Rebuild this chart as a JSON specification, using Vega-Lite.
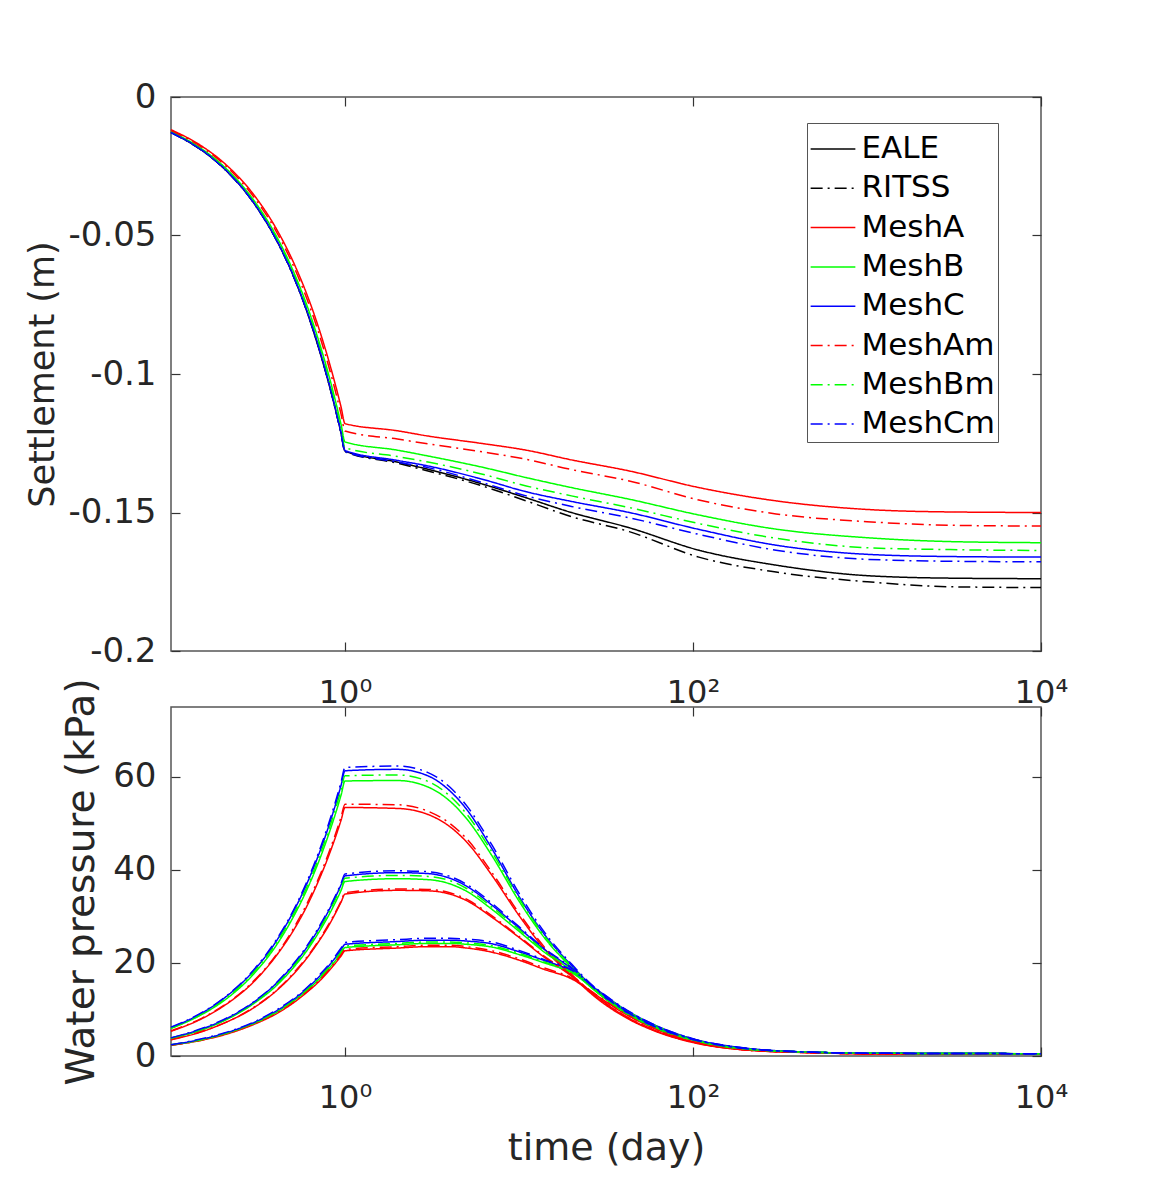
{
"$schema": "https://vega.github.io/schema/vega-lite/v6.json",
"background": "white",
"padding": {"left": 24, "top": 79, "right": 10, "bottom": 10},
"config": {
  "font": "DejaVu Sans",
  "view": {"stroke": "#555555", "strokeWidth": 1.5},
  "axis": {"grid": false, "domain": false, "tickColor": "#333333", "tickSize": -9, "tickWidth": 1.2, "labelColor": "#262626", "titleColor": "#262626", "labelFontSize": 34, "titleFontSize": 36, "titleFontWeight": "normal", "labelPadding": 24, "titlePadding": 8},
  "legend": {"orient": "none", "legendX": 636, "legendY": 26, "strokeColor": "#555555", "fillColor": "white", "padding": 2.5, "labelFontSize": 31, "labelColor": "#000000", "symbolType": "stroke", "symbolSize": 2000, "symbolStrokeWidth": 1.5, "rowPadding": 0.3, "labelOffset": 5}
},
"datasets": {
"settle": [
{"s":"EALE","t":0.1,"v":-0.0128},{"s":"EALE","t":0.15,"v":-0.0192},{"s":"EALE","t":0.2,"v":-0.0256},{"s":"EALE","t":0.3,"v":-0.0384},{"s":"EALE","t":0.4,"v":-0.0512},{"s":"EALE","t":0.5,"v":-0.064},{"s":"EALE","t":0.65,"v":-0.0835},{"s":"EALE","t":0.95,"v":-0.1215},{"s":"EALE","t":1,"v":-0.1278},{"s":"EALE","t":2,"v":-0.1318},{"s":"EALE","t":3,"v":-0.1344},{"s":"EALE","t":6,"v":-0.1395},{"s":"EALE","t":11,"v":-0.1447},{"s":"EALE","t":20,"v":-0.15},{"s":"EALE","t":43,"v":-0.1555},{"s":"EALE","t":108,"v":-0.1636},{"s":"EALE","t":300,"v":-0.169},{"s":"EALE","t":1000,"v":-0.1728},{"s":"EALE","t":3000,"v":-0.1737},{"s":"EALE","t":10000,"v":-0.1739},
{"s":"RITSS","t":0.1,"v":-0.0128},{"s":"RITSS","t":0.2,"v":-0.0256},{"s":"RITSS","t":0.3,"v":-0.0384},{"s":"RITSS","t":0.4,"v":-0.0512},{"s":"RITSS","t":0.5,"v":-0.064},{"s":"RITSS","t":0.6,"v":-0.0768},{"s":"RITSS","t":0.7,"v":-0.0896},{"s":"RITSS","t":0.85,"v":-0.1088},{"s":"RITSS","t":0.95,"v":-0.1216},{"s":"RITSS","t":1,"v":-0.128},{"s":"RITSS","t":2,"v":-0.1322},{"s":"RITSS","t":3,"v":-0.135},{"s":"RITSS","t":6,"v":-0.1402},{"s":"RITSS","t":11,"v":-0.1458},{"s":"RITSS","t":20,"v":-0.1515},{"s":"RITSS","t":43,"v":-0.1569},{"s":"RITSS","t":108,"v":-0.1661},{"s":"RITSS","t":300,"v":-0.1715},{"s":"RITSS","t":1000,"v":-0.175},{"s":"RITSS","t":3000,"v":-0.1768},{"s":"RITSS","t":10000,"v":-0.1771},
{"s":"MeshA","t":0.1,"v":-0.0118},{"s":"MeshA","t":0.15,"v":-0.0177},{"s":"MeshA","t":0.2,"v":-0.0236},{"s":"MeshA","t":0.3,"v":-0.0354},{"s":"MeshA","t":0.4,"v":-0.0472},{"s":"MeshA","t":0.5,"v":-0.059},{"s":"MeshA","t":0.6,"v":-0.0708},{"s":"MeshA","t":0.7,"v":-0.0826},{"s":"MeshA","t":0.85,"v":-0.1003},{"s":"MeshA","t":0.95,"v":-0.112},{"s":"MeshA","t":1,"v":-0.1179},{"s":"MeshA","t":2,"v":-0.1205},{"s":"MeshA","t":3,"v":-0.1224},{"s":"MeshA","t":6,"v":-0.125},{"s":"MeshA","t":11,"v":-0.1275},{"s":"MeshA","t":20,"v":-0.131},{"s":"MeshA","t":43,"v":-0.135},{"s":"MeshA","t":108,"v":-0.141},{"s":"MeshA","t":300,"v":-0.1458},{"s":"MeshA","t":1000,"v":-0.1489},{"s":"MeshA","t":3000,"v":-0.1498},{"s":"MeshA","t":10000,"v":-0.15},
{"s":"MeshB","t":0.1,"v":-0.0125},{"s":"MeshB","t":0.15,"v":-0.0187},{"s":"MeshB","t":0.2,"v":-0.0249},{"s":"MeshB","t":0.3,"v":-0.0374},{"s":"MeshB","t":0.4,"v":-0.0498},{"s":"MeshB","t":0.5,"v":-0.0623},{"s":"MeshB","t":0.6,"v":-0.0747},{"s":"MeshB","t":0.7,"v":-0.0872},{"s":"MeshB","t":0.85,"v":-0.1058},{"s":"MeshB","t":0.95,"v":-0.1183},{"s":"MeshB","t":1,"v":-0.1245},{"s":"MeshB","t":2,"v":-0.1275},{"s":"MeshB","t":3,"v":-0.1296},{"s":"MeshB","t":6,"v":-0.1335},{"s":"MeshB","t":11,"v":-0.1374},{"s":"MeshB","t":20,"v":-0.141},{"s":"MeshB","t":43,"v":-0.1452},{"s":"MeshB","t":108,"v":-0.1509},{"s":"MeshB","t":300,"v":-0.156},{"s":"MeshB","t":1000,"v":-0.1591},{"s":"MeshB","t":3000,"v":-0.1605},{"s":"MeshB","t":10000,"v":-0.1609},
{"s":"MeshC","t":0.1,"v":-0.0128},{"s":"MeshC","t":0.15,"v":-0.0191},{"s":"MeshC","t":0.2,"v":-0.0255},{"s":"MeshC","t":0.3,"v":-0.0383},{"s":"MeshC","t":0.4,"v":-0.051},{"s":"MeshC","t":0.5,"v":-0.0638},{"s":"MeshC","t":0.6,"v":-0.0766},{"s":"MeshC","t":0.7,"v":-0.0893},{"s":"MeshC","t":0.85,"v":-0.1085},{"s":"MeshC","t":0.95,"v":-0.1212},{"s":"MeshC","t":1,"v":-0.1276},{"s":"MeshC","t":2,"v":-0.1312},{"s":"MeshC","t":3,"v":-0.1332},{"s":"MeshC","t":6,"v":-0.1378},{"s":"MeshC","t":11,"v":-0.1425},{"s":"MeshC","t":20,"v":-0.146},{"s":"MeshC","t":43,"v":-0.15},{"s":"MeshC","t":108,"v":-0.1561},{"s":"MeshC","t":300,"v":-0.1618},{"s":"MeshC","t":1000,"v":-0.1651},{"s":"MeshC","t":3000,"v":-0.1659},{"s":"MeshC","t":10000,"v":-0.1661},
{"s":"MeshAm","t":0.1,"v":-0.0121},{"s":"MeshAm","t":0.15,"v":-0.0181},{"s":"MeshAm","t":0.2,"v":-0.0241},{"s":"MeshAm","t":0.3,"v":-0.0362},{"s":"MeshAm","t":0.4,"v":-0.0482},{"s":"MeshAm","t":0.5,"v":-0.0603},{"s":"MeshAm","t":0.6,"v":-0.0724},{"s":"MeshAm","t":0.7,"v":-0.0844},{"s":"MeshAm","t":0.85,"v":-0.1025},{"s":"MeshAm","t":0.95,"v":-0.1146},{"s":"MeshAm","t":1,"v":-0.1206},{"s":"MeshAm","t":2,"v":-0.1235},{"s":"MeshAm","t":3,"v":-0.1252},{"s":"MeshAm","t":6,"v":-0.128},{"s":"MeshAm","t":11,"v":-0.1308},{"s":"MeshAm","t":20,"v":-0.1345},{"s":"MeshAm","t":43,"v":-0.1386},{"s":"MeshAm","t":108,"v":-0.1455},{"s":"MeshAm","t":300,"v":-0.1505},{"s":"MeshAm","t":1000,"v":-0.1533},{"s":"MeshAm","t":3000,"v":-0.1546},{"s":"MeshAm","t":10000,"v":-0.1549},
{"s":"MeshBm","t":0.1,"v":-0.0127},{"s":"MeshBm","t":0.15,"v":-0.019},{"s":"MeshBm","t":0.2,"v":-0.0253},{"s":"MeshBm","t":0.3,"v":-0.038},{"s":"MeshBm","t":0.4,"v":-0.0506},{"s":"MeshBm","t":0.5,"v":-0.0633},{"s":"MeshBm","t":0.6,"v":-0.076},{"s":"MeshBm","t":0.7,"v":-0.0886},{"s":"MeshBm","t":0.85,"v":-0.1076},{"s":"MeshBm","t":0.95,"v":-0.1203},{"s":"MeshBm","t":1,"v":-0.1266},{"s":"MeshBm","t":2,"v":-0.1298},{"s":"MeshBm","t":3,"v":-0.1318},{"s":"MeshBm","t":6,"v":-0.136},{"s":"MeshBm","t":11,"v":-0.1404},{"s":"MeshBm","t":20,"v":-0.144},{"s":"MeshBm","t":43,"v":-0.1482},{"s":"MeshBm","t":108,"v":-0.154},{"s":"MeshBm","t":300,"v":-0.1593},{"s":"MeshBm","t":1000,"v":-0.1627},{"s":"MeshBm","t":3000,"v":-0.1634},{"s":"MeshBm","t":10000,"v":-0.1637},
{"s":"MeshCm","t":0.1,"v":-0.0128},{"s":"MeshCm","t":0.15,"v":-0.0192},{"s":"MeshCm","t":0.2,"v":-0.0256},{"s":"MeshCm","t":0.3,"v":-0.0384},{"s":"MeshCm","t":0.4,"v":-0.0512},{"s":"MeshCm","t":0.5,"v":-0.064},{"s":"MeshCm","t":0.6,"v":-0.0768},{"s":"MeshCm","t":0.7,"v":-0.0896},{"s":"MeshCm","t":0.85,"v":-0.1088},{"s":"MeshCm","t":0.95,"v":-0.1216},{"s":"MeshCm","t":1,"v":-0.128},{"s":"MeshCm","t":2,"v":-0.1318},{"s":"MeshCm","t":3,"v":-0.1338},{"s":"MeshCm","t":6,"v":-0.139},{"s":"MeshCm","t":11,"v":-0.144},{"s":"MeshCm","t":20,"v":-0.1478},{"s":"MeshCm","t":43,"v":-0.1519},{"s":"MeshCm","t":108,"v":-0.1579},{"s":"MeshCm","t":300,"v":-0.1636},{"s":"MeshCm","t":1000,"v":-0.1669},{"s":"MeshCm","t":3000,"v":-0.1676},{"s":"MeshCm","t":10000,"v":-0.1678}
],
"pres": [
{"s":"MeshA","d":1,"t":0.1,"v":5.3},{"s":"MeshA","d":1,"t":0.15,"v":8.0},{"s":"MeshA","d":1,"t":0.2,"v":10.7},{"s":"MeshA","d":1,"t":0.3,"v":16.0},{"s":"MeshA","d":1,"t":0.4,"v":21.4},{"s":"MeshA","d":1,"t":0.5,"v":26.7},{"s":"MeshA","d":1,"t":0.6,"v":32.0},{"s":"MeshA","d":1,"t":0.7,"v":37.4},{"s":"MeshA","d":1,"t":0.8,"v":42.7},{"s":"MeshA","d":1,"t":0.95,"v":50.7},{"s":"MeshA","d":1,"t":1,"v":53.4},{"s":"MeshA","d":1,"t":2,"v":53.2},{"s":"MeshA","d":1,"t":3,"v":51.9},{"s":"MeshA","d":1,"t":4,"v":49.3},{"s":"MeshA","d":1,"t":5,"v":46.0},{"s":"MeshA","d":1,"t":7,"v":38.8},{"s":"MeshA","d":1,"t":10,"v":30.2},{"s":"MeshA","d":1,"t":14,"v":23.0},{"s":"MeshA","d":1,"t":20,"v":17.3},{"s":"MeshA","d":1,"t":28,"v":12.4},{"s":"MeshA","d":1,"t":40,"v":8.5},{"s":"MeshA","d":1,"t":60,"v":5.4},{"s":"MeshA","d":1,"t":100,"v":2.9},{"s":"MeshA","d":1,"t":200,"v":1.3},{"s":"MeshA","d":1,"t":500,"v":0.7},{"s":"MeshA","d":1,"t":1000,"v":0.5},{"s":"MeshA","d":1,"t":10000,"v":0.5},
{"s":"MeshA","d":2,"t":0.1,"v":3.5},{"s":"MeshA","d":2,"t":0.15,"v":5.2},{"s":"MeshA","d":2,"t":0.2,"v":7.0},{"s":"MeshA","d":2,"t":0.3,"v":10.4},{"s":"MeshA","d":2,"t":0.4,"v":13.9},{"s":"MeshA","d":2,"t":0.5,"v":17.4},{"s":"MeshA","d":2,"t":0.6,"v":20.9},{"s":"MeshA","d":2,"t":0.7,"v":24.4},{"s":"MeshA","d":2,"t":0.8,"v":27.8},{"s":"MeshA","d":2,"t":0.95,"v":33.1},{"s":"MeshA","d":2,"t":1,"v":34.8},{"s":"MeshA","d":2,"t":2,"v":35.6},{"s":"MeshA","d":2,"t":3,"v":35.5},{"s":"MeshA","d":2,"t":4,"v":34.8},{"s":"MeshA","d":2,"t":5,"v":33.4},{"s":"MeshA","d":2,"t":7,"v":29.8},{"s":"MeshA","d":2,"t":10,"v":25.5},{"s":"MeshA","d":2,"t":14,"v":21.2},{"s":"MeshA","d":2,"t":20,"v":17.2},{"s":"MeshA","d":2,"t":28,"v":12.7},{"s":"MeshA","d":2,"t":40,"v":8.7},{"s":"MeshA","d":2,"t":60,"v":5.5},{"s":"MeshA","d":2,"t":100,"v":3.0},{"s":"MeshA","d":2,"t":200,"v":1.3},{"s":"MeshA","d":2,"t":500,"v":0.7},{"s":"MeshA","d":2,"t":1000,"v":0.5},{"s":"MeshA","d":2,"t":10000,"v":0.5},
{"s":"MeshA","d":3,"t":0.1,"v":2.3},{"s":"MeshA","d":3,"t":0.15,"v":3.4},{"s":"MeshA","d":3,"t":0.2,"v":4.5},{"s":"MeshA","d":3,"t":0.3,"v":6.8},{"s":"MeshA","d":3,"t":0.4,"v":9.0},{"s":"MeshA","d":3,"t":0.5,"v":11.3},{"s":"MeshA","d":3,"t":0.6,"v":13.6},{"s":"MeshA","d":3,"t":0.7,"v":15.8},{"s":"MeshA","d":3,"t":0.8,"v":18.1},{"s":"MeshA","d":3,"t":0.95,"v":21.5},{"s":"MeshA","d":3,"t":1,"v":22.6},{"s":"MeshA","d":3,"t":2,"v":23.2},{"s":"MeshA","d":3,"t":3,"v":23.5},{"s":"MeshA","d":3,"t":4,"v":23.5},{"s":"MeshA","d":3,"t":5,"v":23.2},{"s":"MeshA","d":3,"t":7,"v":22.3},{"s":"MeshA","d":3,"t":10,"v":20.6},{"s":"MeshA","d":3,"t":14,"v":18.6},{"s":"MeshA","d":3,"t":20,"v":16.6},{"s":"MeshA","d":3,"t":28,"v":13.0},{"s":"MeshA","d":3,"t":40,"v":9.2},{"s":"MeshA","d":3,"t":60,"v":5.9},{"s":"MeshA","d":3,"t":100,"v":3.1},{"s":"MeshA","d":3,"t":200,"v":1.4},{"s":"MeshA","d":3,"t":500,"v":0.7},{"s":"MeshA","d":3,"t":1000,"v":0.5},{"s":"MeshA","d":3,"t":10000,"v":0.5},
{"s":"MeshB","d":1,"t":0.1,"v":5.9},{"s":"MeshB","d":1,"t":0.15,"v":8.9},{"s":"MeshB","d":1,"t":0.2,"v":11.8},{"s":"MeshB","d":1,"t":0.3,"v":17.7},{"s":"MeshB","d":1,"t":0.4,"v":23.6},{"s":"MeshB","d":1,"t":0.5,"v":29.6},{"s":"MeshB","d":1,"t":0.6,"v":35.5},{"s":"MeshB","d":1,"t":0.7,"v":41.4},{"s":"MeshB","d":1,"t":0.8,"v":47.3},{"s":"MeshB","d":1,"t":0.95,"v":56.1},{"s":"MeshB","d":1,"t":1,"v":59.1},{"s":"MeshB","d":1,"t":2,"v":59.2},{"s":"MeshB","d":1,"t":3,"v":57.8},{"s":"MeshB","d":1,"t":4,"v":54.8},{"s":"MeshB","d":1,"t":5,"v":51.0},{"s":"MeshB","d":1,"t":7,"v":43.0},{"s":"MeshB","d":1,"t":10,"v":33.3},{"s":"MeshB","d":1,"t":14,"v":25.4},{"s":"MeshB","d":1,"t":20,"v":19.0},{"s":"MeshB","d":1,"t":28,"v":13.8},{"s":"MeshB","d":1,"t":40,"v":9.5},{"s":"MeshB","d":1,"t":60,"v":6.1},{"s":"MeshB","d":1,"t":100,"v":3.4},{"s":"MeshB","d":1,"t":200,"v":1.5},{"s":"MeshB","d":1,"t":500,"v":0.8},{"s":"MeshB","d":1,"t":1000,"v":0.6},{"s":"MeshB","d":1,"t":10000,"v":0.5},
{"s":"MeshB","d":2,"t":0.1,"v":3.8},{"s":"MeshB","d":2,"t":0.15,"v":5.6},{"s":"MeshB","d":2,"t":0.2,"v":7.5},{"s":"MeshB","d":2,"t":0.3,"v":11.3},{"s":"MeshB","d":2,"t":0.4,"v":15.0},{"s":"MeshB","d":2,"t":0.5,"v":18.8},{"s":"MeshB","d":2,"t":0.6,"v":22.5},{"s":"MeshB","d":2,"t":0.7,"v":26.3},{"s":"MeshB","d":2,"t":0.8,"v":30.0},{"s":"MeshB","d":2,"t":0.95,"v":35.6},{"s":"MeshB","d":2,"t":1,"v":37.5},{"s":"MeshB","d":2,"t":2,"v":38.1},{"s":"MeshB","d":2,"t":3,"v":37.9},{"s":"MeshB","d":2,"t":4,"v":37.0},{"s":"MeshB","d":2,"t":5,"v":35.4},{"s":"MeshB","d":2,"t":7,"v":31.5},{"s":"MeshB","d":2,"t":10,"v":26.8},{"s":"MeshB","d":2,"t":14,"v":22.3},{"s":"MeshB","d":2,"t":20,"v":18.4},{"s":"MeshB","d":2,"t":28,"v":13.7},{"s":"MeshB","d":2,"t":40,"v":9.6},{"s":"MeshB","d":2,"t":60,"v":6.2},{"s":"MeshB","d":2,"t":100,"v":3.5},{"s":"MeshB","d":2,"t":200,"v":1.5},{"s":"MeshB","d":2,"t":500,"v":0.8},{"s":"MeshB","d":2,"t":1000,"v":0.6},{"s":"MeshB","d":2,"t":10000,"v":0.5},
{"s":"MeshB","d":3,"t":0.1,"v":2.3},{"s":"MeshB","d":3,"t":0.15,"v":3.5},{"s":"MeshB","d":3,"t":0.2,"v":4.7},{"s":"MeshB","d":3,"t":0.3,"v":7.0},{"s":"MeshB","d":3,"t":0.4,"v":9.3},{"s":"MeshB","d":3,"t":0.5,"v":11.7},{"s":"MeshB","d":3,"t":0.6,"v":14.0},{"s":"MeshB","d":3,"t":0.7,"v":16.3},{"s":"MeshB","d":3,"t":0.8,"v":18.6},{"s":"MeshB","d":3,"t":0.95,"v":22.1},{"s":"MeshB","d":3,"t":1,"v":23.3},{"s":"MeshB","d":3,"t":2,"v":23.9},{"s":"MeshB","d":3,"t":3,"v":24.2},{"s":"MeshB","d":3,"t":4,"v":24.2},{"s":"MeshB","d":3,"t":5,"v":24.0},{"s":"MeshB","d":3,"t":7,"v":23.4},{"s":"MeshB","d":3,"t":10,"v":21.8},{"s":"MeshB","d":3,"t":14,"v":20.0},{"s":"MeshB","d":3,"t":20,"v":17.9},{"s":"MeshB","d":3,"t":28,"v":14.0},{"s":"MeshB","d":3,"t":40,"v":10.0},{"s":"MeshB","d":3,"t":60,"v":6.6},{"s":"MeshB","d":3,"t":100,"v":3.6},{"s":"MeshB","d":3,"t":200,"v":1.6},{"s":"MeshB","d":3,"t":500,"v":0.8},{"s":"MeshB","d":3,"t":1000,"v":0.6},{"s":"MeshB","d":3,"t":10000,"v":0.5},
{"s":"MeshC","d":1,"t":0.1,"v":6.1},{"s":"MeshC","d":1,"t":0.15,"v":9.2},{"s":"MeshC","d":1,"t":0.2,"v":12.3},{"s":"MeshC","d":1,"t":0.3,"v":18.4},{"s":"MeshC","d":1,"t":0.4,"v":24.5},{"s":"MeshC","d":1,"t":0.5,"v":30.7},{"s":"MeshC","d":1,"t":0.6,"v":36.8},{"s":"MeshC","d":1,"t":0.7,"v":42.9},{"s":"MeshC","d":1,"t":0.8,"v":49.0},{"s":"MeshC","d":1,"t":0.95,"v":58.2},{"s":"MeshC","d":1,"t":1,"v":61.3},{"s":"MeshC","d":1,"t":2,"v":61.6},{"s":"MeshC","d":1,"t":3,"v":60.2},{"s":"MeshC","d":1,"t":4,"v":57.0},{"s":"MeshC","d":1,"t":5,"v":53.0},{"s":"MeshC","d":1,"t":7,"v":44.5},{"s":"MeshC","d":1,"t":10,"v":34.3},{"s":"MeshC","d":1,"t":14,"v":26.1},{"s":"MeshC","d":1,"t":20,"v":19.5},{"s":"MeshC","d":1,"t":28,"v":14.1},{"s":"MeshC","d":1,"t":40,"v":9.8},{"s":"MeshC","d":1,"t":60,"v":6.3},{"s":"MeshC","d":1,"t":100,"v":3.5},{"s":"MeshC","d":1,"t":200,"v":1.6},{"s":"MeshC","d":1,"t":500,"v":0.8},{"s":"MeshC","d":1,"t":1000,"v":0.6},{"s":"MeshC","d":1,"t":10000,"v":0.5},
{"s":"MeshC","d":2,"t":0.1,"v":3.9},{"s":"MeshC","d":2,"t":0.15,"v":5.8},{"s":"MeshC","d":2,"t":0.2,"v":7.7},{"s":"MeshC","d":2,"t":0.3,"v":11.6},{"s":"MeshC","d":2,"t":0.4,"v":15.5},{"s":"MeshC","d":2,"t":0.5,"v":19.4},{"s":"MeshC","d":2,"t":0.6,"v":23.2},{"s":"MeshC","d":2,"t":0.7,"v":27.1},{"s":"MeshC","d":2,"t":0.8,"v":31.0},{"s":"MeshC","d":2,"t":0.95,"v":36.8},{"s":"MeshC","d":2,"t":1,"v":38.7},{"s":"MeshC","d":2,"t":2,"v":39.4},{"s":"MeshC","d":2,"t":3,"v":39.2},{"s":"MeshC","d":2,"t":4,"v":38.2},{"s":"MeshC","d":2,"t":5,"v":36.5},{"s":"MeshC","d":2,"t":7,"v":32.4},{"s":"MeshC","d":2,"t":10,"v":27.5},{"s":"MeshC","d":2,"t":14,"v":22.9},{"s":"MeshC","d":2,"t":20,"v":18.8},{"s":"MeshC","d":2,"t":28,"v":14.0},{"s":"MeshC","d":2,"t":40,"v":9.8},{"s":"MeshC","d":2,"t":60,"v":6.4},{"s":"MeshC","d":2,"t":100,"v":3.6},{"s":"MeshC","d":2,"t":200,"v":1.6},{"s":"MeshC","d":2,"t":500,"v":0.8},{"s":"MeshC","d":2,"t":1000,"v":0.6},{"s":"MeshC","d":2,"t":10000,"v":0.5},
{"s":"MeshC","d":3,"t":0.1,"v":2.4},{"s":"MeshC","d":3,"t":0.15,"v":3.6},{"s":"MeshC","d":3,"t":0.2,"v":4.8},{"s":"MeshC","d":3,"t":0.3,"v":7.2},{"s":"MeshC","d":3,"t":0.4,"v":9.6},{"s":"MeshC","d":3,"t":0.5,"v":12.0},{"s":"MeshC","d":3,"t":0.6,"v":14.4},{"s":"MeshC","d":3,"t":0.7,"v":16.8},{"s":"MeshC","d":3,"t":0.8,"v":19.2},{"s":"MeshC","d":3,"t":0.95,"v":22.8},{"s":"MeshC","d":3,"t":1,"v":24.0},{"s":"MeshC","d":3,"t":2,"v":24.6},{"s":"MeshC","d":3,"t":3,"v":24.9},{"s":"MeshC","d":3,"t":4,"v":24.9},{"s":"MeshC","d":3,"t":5,"v":24.7},{"s":"MeshC","d":3,"t":7,"v":24.1},{"s":"MeshC","d":3,"t":10,"v":22.4},{"s":"MeshC","d":3,"t":14,"v":20.5},{"s":"MeshC","d":3,"t":20,"v":18.3},{"s":"MeshC","d":3,"t":28,"v":14.3},{"s":"MeshC","d":3,"t":40,"v":10.2},{"s":"MeshC","d":3,"t":60,"v":6.7},{"s":"MeshC","d":3,"t":100,"v":3.7},{"s":"MeshC","d":3,"t":200,"v":1.7},{"s":"MeshC","d":3,"t":500,"v":0.8},{"s":"MeshC","d":3,"t":1000,"v":0.6},{"s":"MeshC","d":3,"t":10000,"v":0.5},
{"s":"MeshAm","d":1,"t":0.1,"v":5.4},{"s":"MeshAm","d":1,"t":0.15,"v":8.1},{"s":"MeshAm","d":1,"t":0.2,"v":10.8},{"s":"MeshAm","d":1,"t":0.3,"v":16.2},{"s":"MeshAm","d":1,"t":0.4,"v":21.6},{"s":"MeshAm","d":1,"t":0.5,"v":27.1},{"s":"MeshAm","d":1,"t":0.6,"v":32.5},{"s":"MeshAm","d":1,"t":0.7,"v":37.9},{"s":"MeshAm","d":1,"t":0.8,"v":43.3},{"s":"MeshAm","d":1,"t":0.95,"v":51.4},{"s":"MeshAm","d":1,"t":1,"v":54.1},{"s":"MeshAm","d":1,"t":2,"v":54.0},{"s":"MeshAm","d":1,"t":3,"v":52.6},{"s":"MeshAm","d":1,"t":4,"v":50.0},{"s":"MeshAm","d":1,"t":5,"v":46.7},{"s":"MeshAm","d":1,"t":7,"v":39.4},{"s":"MeshAm","d":1,"t":10,"v":30.7},{"s":"MeshAm","d":1,"t":14,"v":23.4},{"s":"MeshAm","d":1,"t":20,"v":17.6},{"s":"MeshAm","d":1,"t":28,"v":12.6},{"s":"MeshAm","d":1,"t":40,"v":8.7},{"s":"MeshAm","d":1,"t":60,"v":5.5},{"s":"MeshAm","d":1,"t":100,"v":3.0},{"s":"MeshAm","d":1,"t":200,"v":1.3},{"s":"MeshAm","d":1,"t":500,"v":0.7},{"s":"MeshAm","d":1,"t":1000,"v":0.5},{"s":"MeshAm","d":1,"t":10000,"v":0.5},
{"s":"MeshAm","d":2,"t":0.1,"v":3.5},{"s":"MeshAm","d":2,"t":0.15,"v":5.3},{"s":"MeshAm","d":2,"t":0.2,"v":7.0},{"s":"MeshAm","d":2,"t":0.3,"v":10.5},{"s":"MeshAm","d":2,"t":0.4,"v":14.0},{"s":"MeshAm","d":2,"t":0.5,"v":17.6},{"s":"MeshAm","d":2,"t":0.6,"v":21.1},{"s":"MeshAm","d":2,"t":0.7,"v":24.6},{"s":"MeshAm","d":2,"t":0.8,"v":28.1},{"s":"MeshAm","d":2,"t":0.95,"v":33.3},{"s":"MeshAm","d":2,"t":1,"v":35.1},{"s":"MeshAm","d":2,"t":2,"v":35.9},{"s":"MeshAm","d":2,"t":3,"v":35.8},{"s":"MeshAm","d":2,"t":4,"v":35.1},{"s":"MeshAm","d":2,"t":5,"v":33.7},{"s":"MeshAm","d":2,"t":7,"v":30.1},{"s":"MeshAm","d":2,"t":10,"v":25.7},{"s":"MeshAm","d":2,"t":14,"v":21.4},{"s":"MeshAm","d":2,"t":20,"v":17.4},{"s":"MeshAm","d":2,"t":28,"v":12.8},{"s":"MeshAm","d":2,"t":40,"v":8.8},{"s":"MeshAm","d":2,"t":60,"v":5.6},{"s":"MeshAm","d":2,"t":100,"v":3.0},{"s":"MeshAm","d":2,"t":200,"v":1.3},{"s":"MeshAm","d":2,"t":500,"v":0.7},{"s":"MeshAm","d":2,"t":1000,"v":0.5},{"s":"MeshAm","d":2,"t":10000,"v":0.5},
{"s":"MeshAm","d":3,"t":0.1,"v":2.3},{"s":"MeshAm","d":3,"t":0.15,"v":3.4},{"s":"MeshAm","d":3,"t":0.2,"v":4.6},{"s":"MeshAm","d":3,"t":0.3,"v":6.9},{"s":"MeshAm","d":3,"t":0.4,"v":9.2},{"s":"MeshAm","d":3,"t":0.5,"v":11.5},{"s":"MeshAm","d":3,"t":0.6,"v":13.7},{"s":"MeshAm","d":3,"t":0.7,"v":16.0},{"s":"MeshAm","d":3,"t":0.8,"v":18.3},{"s":"MeshAm","d":3,"t":0.95,"v":21.8},{"s":"MeshAm","d":3,"t":1,"v":22.9},{"s":"MeshAm","d":3,"t":2,"v":23.5},{"s":"MeshAm","d":3,"t":3,"v":23.8},{"s":"MeshAm","d":3,"t":4,"v":23.8},{"s":"MeshAm","d":3,"t":5,"v":23.5},{"s":"MeshAm","d":3,"t":7,"v":22.6},{"s":"MeshAm","d":3,"t":10,"v":20.9},{"s":"MeshAm","d":3,"t":14,"v":18.9},{"s":"MeshAm","d":3,"t":20,"v":16.8},{"s":"MeshAm","d":3,"t":28,"v":13.1},{"s":"MeshAm","d":3,"t":40,"v":9.3},{"s":"MeshAm","d":3,"t":60,"v":6.0},{"s":"MeshAm","d":3,"t":100,"v":3.2},{"s":"MeshAm","d":3,"t":200,"v":1.4},{"s":"MeshAm","d":3,"t":500,"v":0.7},{"s":"MeshAm","d":3,"t":1000,"v":0.5},{"s":"MeshAm","d":3,"t":10000,"v":0.5},
{"s":"MeshBm","d":1,"t":0.1,"v":6.0},{"s":"MeshBm","d":1,"t":0.15,"v":9.0},{"s":"MeshBm","d":1,"t":0.2,"v":12.0},{"s":"MeshBm","d":1,"t":0.3,"v":18.1},{"s":"MeshBm","d":1,"t":0.4,"v":24.1},{"s":"MeshBm","d":1,"t":0.5,"v":30.1},{"s":"MeshBm","d":1,"t":0.6,"v":36.1},{"s":"MeshBm","d":1,"t":0.7,"v":42.1},{"s":"MeshBm","d":1,"t":0.8,"v":48.2},{"s":"MeshBm","d":1,"t":0.95,"v":57.2},{"s":"MeshBm","d":1,"t":1,"v":60.2},{"s":"MeshBm","d":1,"t":2,"v":60.4},{"s":"MeshBm","d":1,"t":3,"v":59.0},{"s":"MeshBm","d":1,"t":4,"v":55.9},{"s":"MeshBm","d":1,"t":5,"v":52.0},{"s":"MeshBm","d":1,"t":7,"v":43.8},{"s":"MeshBm","d":1,"t":10,"v":33.9},{"s":"MeshBm","d":1,"t":14,"v":25.8},{"s":"MeshBm","d":1,"t":20,"v":19.3},{"s":"MeshBm","d":1,"t":28,"v":13.9},{"s":"MeshBm","d":1,"t":40,"v":9.6},{"s":"MeshBm","d":1,"t":60,"v":6.2},{"s":"MeshBm","d":1,"t":100,"v":3.4},{"s":"MeshBm","d":1,"t":200,"v":1.5},{"s":"MeshBm","d":1,"t":500,"v":0.8},{"s":"MeshBm","d":1,"t":1000,"v":0.6},{"s":"MeshBm","d":1,"t":10000,"v":0.5},
{"s":"MeshBm","d":2,"t":0.1,"v":3.8},{"s":"MeshBm","d":2,"t":0.15,"v":5.7},{"s":"MeshBm","d":2,"t":0.2,"v":7.6},{"s":"MeshBm","d":2,"t":0.3,"v":11.5},{"s":"MeshBm","d":2,"t":0.4,"v":15.3},{"s":"MeshBm","d":2,"t":0.5,"v":19.1},{"s":"MeshBm","d":2,"t":0.6,"v":22.9},{"s":"MeshBm","d":2,"t":0.7,"v":26.7},{"s":"MeshBm","d":2,"t":0.8,"v":30.6},{"s":"MeshBm","d":2,"t":0.95,"v":36.3},{"s":"MeshBm","d":2,"t":1,"v":38.2},{"s":"MeshBm","d":2,"t":2,"v":38.8},{"s":"MeshBm","d":2,"t":3,"v":38.6},{"s":"MeshBm","d":2,"t":4,"v":37.7},{"s":"MeshBm","d":2,"t":5,"v":36.0},{"s":"MeshBm","d":2,"t":7,"v":32.0},{"s":"MeshBm","d":2,"t":10,"v":27.2},{"s":"MeshBm","d":2,"t":14,"v":22.6},{"s":"MeshBm","d":2,"t":20,"v":18.6},{"s":"MeshBm","d":2,"t":28,"v":13.8},{"s":"MeshBm","d":2,"t":40,"v":9.7},{"s":"MeshBm","d":2,"t":60,"v":6.3},{"s":"MeshBm","d":2,"t":100,"v":3.5},{"s":"MeshBm","d":2,"t":200,"v":1.5},{"s":"MeshBm","d":2,"t":500,"v":0.8},{"s":"MeshBm","d":2,"t":1000,"v":0.6},{"s":"MeshBm","d":2,"t":10000,"v":0.5},
{"s":"MeshBm","d":3,"t":0.1,"v":2.4},{"s":"MeshBm","d":3,"t":0.15,"v":3.5},{"s":"MeshBm","d":3,"t":0.2,"v":4.7},{"s":"MeshBm","d":3,"t":0.3,"v":7.1},{"s":"MeshBm","d":3,"t":0.4,"v":9.4},{"s":"MeshBm","d":3,"t":0.5,"v":11.8},{"s":"MeshBm","d":3,"t":0.6,"v":14.2},{"s":"MeshBm","d":3,"t":0.7,"v":16.5},{"s":"MeshBm","d":3,"t":0.8,"v":18.9},{"s":"MeshBm","d":3,"t":0.95,"v":22.4},{"s":"MeshBm","d":3,"t":1,"v":23.6},{"s":"MeshBm","d":3,"t":2,"v":24.2},{"s":"MeshBm","d":3,"t":3,"v":24.5},{"s":"MeshBm","d":3,"t":4,"v":24.5},{"s":"MeshBm","d":3,"t":5,"v":24.3},{"s":"MeshBm","d":3,"t":7,"v":23.7},{"s":"MeshBm","d":3,"t":10,"v":22.1},{"s":"MeshBm","d":3,"t":14,"v":20.2},{"s":"MeshBm","d":3,"t":20,"v":18.1},{"s":"MeshBm","d":3,"t":28,"v":14.1},{"s":"MeshBm","d":3,"t":40,"v":10.1},{"s":"MeshBm","d":3,"t":60,"v":6.6},{"s":"MeshBm","d":3,"t":100,"v":3.6},{"s":"MeshBm","d":3,"t":200,"v":1.6},{"s":"MeshBm","d":3,"t":500,"v":0.8},{"s":"MeshBm","d":3,"t":1000,"v":0.6},{"s":"MeshBm","d":3,"t":10000,"v":0.5},
{"s":"MeshCm","d":1,"t":0.1,"v":6.2},{"s":"MeshCm","d":1,"t":0.15,"v":9.3},{"s":"MeshCm","d":1,"t":0.2,"v":12.4},{"s":"MeshCm","d":1,"t":0.3,"v":18.6},{"s":"MeshCm","d":1,"t":0.4,"v":24.8},{"s":"MeshCm","d":1,"t":0.5,"v":31.0},{"s":"MeshCm","d":1,"t":0.6,"v":37.2},{"s":"MeshCm","d":1,"t":0.7,"v":43.4},{"s":"MeshCm","d":1,"t":0.8,"v":49.6},{"s":"MeshCm","d":1,"t":0.95,"v":58.9},{"s":"MeshCm","d":1,"t":1,"v":62.0},{"s":"MeshCm","d":1,"t":2,"v":62.3},{"s":"MeshCm","d":1,"t":3,"v":60.9},{"s":"MeshCm","d":1,"t":4,"v":57.8},{"s":"MeshCm","d":1,"t":5,"v":53.8},{"s":"MeshCm","d":1,"t":7,"v":45.3},{"s":"MeshCm","d":1,"t":10,"v":35.0},{"s":"MeshCm","d":1,"t":14,"v":26.6},{"s":"MeshCm","d":1,"t":20,"v":19.8},{"s":"MeshCm","d":1,"t":28,"v":14.3},{"s":"MeshCm","d":1,"t":40,"v":9.9},{"s":"MeshCm","d":1,"t":60,"v":6.4},{"s":"MeshCm","d":1,"t":100,"v":3.6},{"s":"MeshCm","d":1,"t":200,"v":1.6},{"s":"MeshCm","d":1,"t":500,"v":0.8},{"s":"MeshCm","d":1,"t":1000,"v":0.6},{"s":"MeshCm","d":1,"t":10000,"v":0.5},
{"s":"MeshCm","d":2,"t":0.1,"v":3.9},{"s":"MeshCm","d":2,"t":0.15,"v":5.9},{"s":"MeshCm","d":2,"t":0.2,"v":7.8},{"s":"MeshCm","d":2,"t":0.3,"v":11.7},{"s":"MeshCm","d":2,"t":0.4,"v":15.6},{"s":"MeshCm","d":2,"t":0.5,"v":19.6},{"s":"MeshCm","d":2,"t":0.6,"v":23.5},{"s":"MeshCm","d":2,"t":0.7,"v":27.4},{"s":"MeshCm","d":2,"t":0.8,"v":31.3},{"s":"MeshCm","d":2,"t":0.95,"v":37.1},{"s":"MeshCm","d":2,"t":1,"v":39.1},{"s":"MeshCm","d":2,"t":2,"v":39.8},{"s":"MeshCm","d":2,"t":3,"v":39.6},{"s":"MeshCm","d":2,"t":4,"v":38.6},{"s":"MeshCm","d":2,"t":5,"v":36.9},{"s":"MeshCm","d":2,"t":7,"v":32.8},{"s":"MeshCm","d":2,"t":10,"v":27.8},{"s":"MeshCm","d":2,"t":14,"v":23.1},{"s":"MeshCm","d":2,"t":20,"v":19.0},{"s":"MeshCm","d":2,"t":28,"v":14.1},{"s":"MeshCm","d":2,"t":40,"v":9.9},{"s":"MeshCm","d":2,"t":60,"v":6.4},{"s":"MeshCm","d":2,"t":100,"v":3.6},{"s":"MeshCm","d":2,"t":200,"v":1.6},{"s":"MeshCm","d":2,"t":500,"v":0.8},{"s":"MeshCm","d":2,"t":1000,"v":0.6},{"s":"MeshCm","d":2,"t":10000,"v":0.5},
{"s":"MeshCm","d":3,"t":0.1,"v":2.4},{"s":"MeshCm","d":3,"t":0.15,"v":3.7},{"s":"MeshCm","d":3,"t":0.2,"v":4.9},{"s":"MeshCm","d":3,"t":0.3,"v":7.3},{"s":"MeshCm","d":3,"t":0.4,"v":9.8},{"s":"MeshCm","d":3,"t":0.5,"v":12.2},{"s":"MeshCm","d":3,"t":0.6,"v":14.6},{"s":"MeshCm","d":3,"t":0.7,"v":17.1},{"s":"MeshCm","d":3,"t":0.8,"v":19.5},{"s":"MeshCm","d":3,"t":0.95,"v":23.2},{"s":"MeshCm","d":3,"t":1,"v":24.4},{"s":"MeshCm","d":3,"t":2,"v":25.0},{"s":"MeshCm","d":3,"t":3,"v":25.3},{"s":"MeshCm","d":3,"t":4,"v":25.3},{"s":"MeshCm","d":3,"t":5,"v":25.1},{"s":"MeshCm","d":3,"t":7,"v":24.5},{"s":"MeshCm","d":3,"t":10,"v":22.7},{"s":"MeshCm","d":3,"t":14,"v":20.7},{"s":"MeshCm","d":3,"t":20,"v":18.5},{"s":"MeshCm","d":3,"t":28,"v":14.4},{"s":"MeshCm","d":3,"t":40,"v":10.3},{"s":"MeshCm","d":3,"t":60,"v":6.7},{"s":"MeshCm","d":3,"t":100,"v":3.7},{"s":"MeshCm","d":3,"t":200,"v":1.7},{"s":"MeshCm","d":3,"t":500,"v":0.8},{"s":"MeshCm","d":3,"t":1000,"v":0.6},{"s":"MeshCm","d":3,"t":10000,"v":0.5}
]
},
"spacing": 56,
"bounds": "flush",
"resolve": {"scale": {"color": "independent", "strokeDash": "independent"}},
"vconcat": [
{
  "width": 870, "height": 554,
  "data": {"name": "settle"},
  "layer": [
    {
      "mark": {"type": "line", "strokeWidth": 1.5, "interpolate": "monotone"},
      "encoding": {
        "x": {"field": "t", "type": "quantitative", "scale": {"type": "log", "domain": [0.1, 10000]}, "axis": {"values": [1, 100, 10000], "labelExpr": "datum.value == 1 ? '10⁰' : datum.value == 100 ? '10²' : '10⁴'", "title": null, "labelFlush": false, "labelFontSize": 32, "labelPadding": 35}},
        "y": {"field": "v", "type": "quantitative", "scale": {"domain": [-0.2, 0]}, "axis": {"values": [-0.2, -0.15, -0.1, -0.05, 0], "labelExpr": "datum.value == 0 ? '0' : '-' + format(-datum.value, '~g')", "title": "Settlement (m)", "titleFontSize": 35, "titlePadding": 8}},
        "color": {"field": "s", "type": "nominal", "sort": null, "scale": {"domain": ["EALE", "RITSS", "MeshA", "MeshB", "MeshC", "MeshAm", "MeshBm", "MeshCm"], "range": ["#000000", "#000000", "#ff0000", "#00ff00", "#0000ff", "#ff0000", "#00ff00", "#0000ff"]}, "legend": {"title": null}},
        "strokeDash": {"field": "s", "type": "nominal", "sort": null, "scale": {"domain": ["EALE", "RITSS", "MeshA", "MeshB", "MeshC", "MeshAm", "MeshBm", "MeshCm"], "range": [[1, 0], [12, 5, 2, 5], [1, 0], [1, 0], [1, 0], [12, 5, 2, 5], [12, 5, 2, 5], [12, 5, 2, 5]]}, "legend": {"title": null}}
      }
    },
    {
      "mark": {"type": "line", "strokeOpacity": 0},
      "encoding": {
        "x": {"field": "t", "type": "quantitative", "scale": {"type": "log", "domain": [0.1, 10000]}, "axis": {"orient": "top", "values": [1, 100, 10000], "labels": false, "title": null}},
        "y": {"field": "v", "type": "quantitative", "scale": {"domain": [-0.2, 0]}, "axis": {"orient": "right", "values": [-0.2, -0.15, -0.1, -0.05, 0], "labels": false, "title": null}},
        "detail": {"field": "s"}
      }
    }
  ],
  "resolve": {"axis": {"x": "independent", "y": "independent"}}
},
{
  "width": 870, "height": 349,
  "data": {"name": "pres"},
  "layer": [
    {
      "mark": {"type": "line", "strokeWidth": 1.5, "interpolate": "monotone"},
      "encoding": {
        "x": {"field": "t", "type": "quantitative", "scale": {"type": "log", "domain": [0.1, 10000]}, "axis": {"values": [1, 100, 10000], "labelExpr": "datum.value == 1 ? '10⁰' : datum.value == 100 ? '10²' : '10⁴'", "title": "time (day)", "titleFontSize": 38, "titlePadding": 16, "labelFlush": false, "labelFontSize": 32, "labelPadding": 35}},
        "y": {"field": "v", "type": "quantitative", "scale": {"domain": [0, 75]}, "axis": {"values": [0, 20, 40, 60], "title": "Water pressure (kPa)", "titleFontSize": 39, "titlePadding": 11}},
        "color": {"field": "s", "type": "nominal", "sort": null, "scale": {"domain": ["EALE", "RITSS", "MeshA", "MeshB", "MeshC", "MeshAm", "MeshBm", "MeshCm"], "range": ["#000000", "#000000", "#ff0000", "#00ff00", "#0000ff", "#ff0000", "#00ff00", "#0000ff"]}, "legend": null},
        "strokeDash": {"field": "s", "type": "nominal", "sort": null, "scale": {"domain": ["EALE", "RITSS", "MeshA", "MeshB", "MeshC", "MeshAm", "MeshBm", "MeshCm"], "range": [[1, 0], [12, 5, 2, 5], [1, 0], [1, 0], [1, 0], [12, 5, 2, 5], [12, 5, 2, 5], [12, 5, 2, 5]]}, "legend": null},
        "detail": {"field": "d"}
      }
    },
    {
      "mark": {"type": "line", "strokeOpacity": 0},
      "encoding": {
        "x": {"field": "t", "type": "quantitative", "scale": {"type": "log", "domain": [0.1, 10000]}, "axis": {"orient": "top", "values": [1, 100, 10000], "labels": false, "title": null}},
        "y": {"field": "v", "type": "quantitative", "scale": {"domain": [0, 75]}, "axis": {"orient": "right", "values": [0, 20, 40, 60], "labels": false, "title": null}},
        "detail": {"field": "s"}
      }
    }
  ],
  "resolve": {"axis": {"x": "independent", "y": "independent"}}
}
]
}
